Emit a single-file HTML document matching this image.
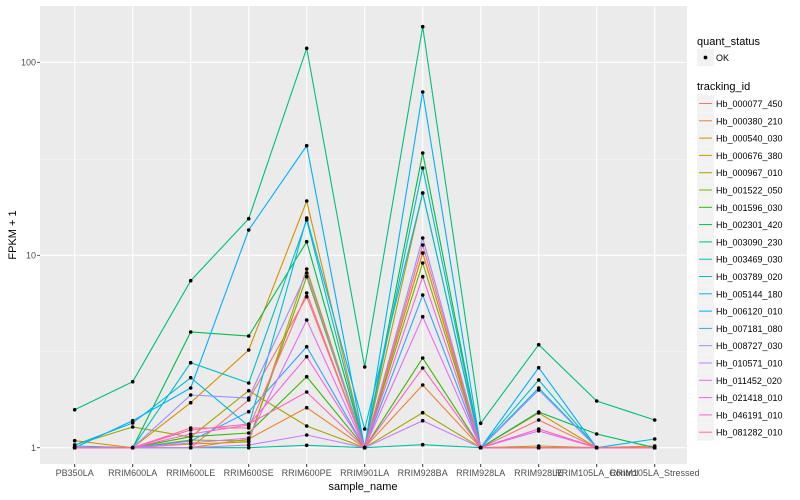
<!DOCTYPE html>
<html><head><meta charset="utf-8"><style>
body{margin:0;background:#fff}
svg{display:block;font-family:"Liberation Sans",sans-serif}
</style></head><body>
<svg id="s" width="800" height="500" xmlns="http://www.w3.org/2000/svg">
<rect x="40" y="6" width="647" height="458" fill="#EBEBEB"/>
<g stroke="#F5F5F5" stroke-width="0.6">
<line x1="40" x2="687" y1="159.3" y2="159.3"/><line x1="40" x2="687" y1="351.3" y2="351.3"/>
</g>
<g stroke="#fff" stroke-width="1.1" id="grid">
<line x1="40" x2="687" y1="62.3" y2="62.3"/><line x1="40" x2="687" y1="255.3" y2="255.3"/><line x1="40" x2="687" y1="447.7" y2="447.7"/>
</g>
<g id="lines" fill="none" stroke-width="1.1"></g>
<g id="pts" fill="#000"></g>
<g font-size="9" fill="#4D4D4D" text-anchor="end">
<text x="36" y="65.5">100</text><text x="36" y="258.5">10</text><text x="36" y="451">1</text>
</g>
<g stroke="#333" stroke-width="0.8"><line x1="37" x2="40" y1="62.3" y2="62.3"/><line x1="37" x2="40" y1="255.3" y2="255.3"/><line x1="37" x2="40" y1="447.7" y2="447.7"/></g>
<g id="xl" font-size="9" fill="#4D4D4D" text-anchor="middle"></g>
<text x="363" y="490" font-size="11" text-anchor="middle" fill="#000">sample_name</text>
<text transform="translate(16,235) rotate(-90)" font-size="11" text-anchor="middle" fill="#000">FPKM + 1</text>
<text x="697" y="45" font-size="11" fill="#000">quant_status</text>
<rect x="697" y="49" width="17" height="17" fill="#F2F2F2"/>
<circle cx="705.5" cy="57.5" r="1.9" fill="#000"/>
<text x="716" y="61" font-size="9" fill="#000">OK</text>
<text x="697" y="90" font-size="11" fill="#000">tracking_id</text>
<g id="leg"></g>
</svg>
<script>
const cols=["#F8766D","#EA8331","#D89000","#C09B00","#A3A500","#7CAE00","#39B600","#00BB4E","#00BF7D","#00C1A3","#00BFC4","#00BAE0","#00B0F6","#35A2FF","#9590FF","#C77CFF","#E76BF3","#FA62DB","#FF62BC","#FF6C91"];
const ids=["000077_450","000380_210","000540_030","000676_380","000967_010","001522_050","001596_030","002301_420","003090_230","003469_030","003789_020","005144_180","006120_010","007181_080","008727_030","010571_010","011452_020","021418_010","046191_010","081282_010"];
const names=["PB350LA","RRIM600LA","RRIM600LE","RRIM600SE","RRIM600PE","RRIM901LA","RRIM928BA","RRIM928LA","RRIM928LE","RRIM105LA_Control","RRIM105LA_Stressed"];
const B=447.7;
const X=i=>74.7+i*58;
// values per series (pixel y), null -> base
const d={
0:[B,B,B,400,296.7,B,253,B,420,B,B],
1:[B,B,B,439,407.7,B,385,B,B,B,446],
2:[440.7,B,402.7,350,201,B,253,B,413,B,B],
3:[B,B,444,442,269,B,193,B,446,B,B],
4:[445,427,437,390.7,426,B,412.7,B,B,B,B],
5:[B,B,440,441,276.7,B,263,B,B,B,B],
6:[B,B,436.7,433,376.7,B,358,B,B,B,B],
7:[B,B,332,336,241.7,B,153,B,412,434,B],
8:[409.7,381.7,280.7,218.7,48.3,367,26.7,423.3,344.7,401,420],
9:[B,B,B,B,445.3,B,444.7,B,B,B,B],
10:[B,B,362.7,383,220,B,168,B,380,B,B],
11:[445,423,377.7,426,218,429,193,B,388,B,439],
12:[B,420.7,388,230,145.7,B,92,B,367.7,B,B],
13:[446,B,441,411.7,346.7,B,295,B,B,B,B],
14:[B,B,395,398,273,B,238,B,390,B,B],
15:[B,B,B,445,435,B,420.7,B,B,B,B],
16:[B,B,443,438,320,B,316.7,B,431,B,B],
17:[B,B,434,425,356.7,B,276.7,B,B,B,B],
18:[B,B,430,424,392,B,368,B,429,B,B],
19:[B,B,428,428,293,B,245,B,B,B,B]};
const L=document.getElementById('lines'),P=document.getElementById('pts'),ns="http://www.w3.org/2000/svg";
for(let k=0;k<20;k++){const v=d[k];const pl=document.createElementNS(ns,'polyline');pl.setAttribute('points',v.map((y,i)=>X(i)+','+y).join(' '));pl.setAttribute('stroke',cols[k]);L.appendChild(pl);
v.forEach((y,i)=>{const c=document.createElementNS(ns,'circle');c.setAttribute('cx',X(i));c.setAttribute('cy',y);c.setAttribute('r',1.8);P.appendChild(c);});}
const XL=document.getElementById('xl');const G=document.getElementById('grid');
names.forEach((n,i)=>{const t=document.createElementNS(ns,'text');t.setAttribute('x',X(i));t.setAttribute('y',476);t.textContent=n;XL.appendChild(t);
const l=document.createElementNS(ns,'line');l.setAttribute('x1',X(i));l.setAttribute('x2',X(i));l.setAttribute('y1',6);l.setAttribute('y2',464);G.appendChild(l);
const tk=document.createElementNS(ns,'line');tk.setAttribute('x1',X(i));tk.setAttribute('x2',X(i));tk.setAttribute('y1',464);tk.setAttribute('y2',467);tk.setAttribute('stroke','#333');XL.appendChild(tk);});
const LG=document.getElementById('leg');
ids.forEach((n,i)=>{const y=95+i*17.3;
LG.insertAdjacentHTML('beforeend',`<rect x="697" y="${y}" width="17" height="17" fill="#F2F2F2"/><line x1="699" x2="712" y1="${y+8.5}" y2="${y+8.5}" stroke="${cols[i]}" stroke-width="1"/><text x="716" y="${y+12}" font-size="9" fill="#000">Hb_${n}</text>`);});
</script>
</body></html>
